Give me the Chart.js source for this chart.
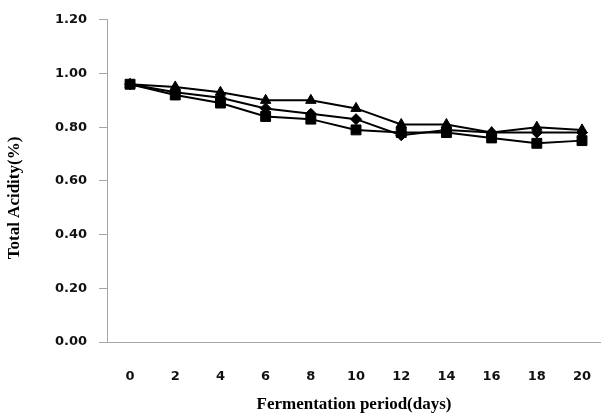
<!DOCTYPE html>
<html>
<head>
<meta charset="utf-8">
<script src="https://cdn.jsdelivr.net/npm/chart.js@4"></script>
<style>
  html, body { margin: 0; padding: 0; background: #fff; overflow: hidden; }
  canvas { display: block; }
</style>
</head>
<body>
<canvas id="chart" width="601" height="417"></canvas>
<script>
const days = [0, 2, 4, 6, 8, 10, 12, 14, 16, 18, 20];
const triangleSeries = [0.96, 0.95, 0.93, 0.90, 0.90, 0.87, 0.81, 0.81, 0.78, 0.80, 0.79];
const diamondSeries = [0.96, 0.93, 0.91, 0.87, 0.85, 0.83, 0.77, 0.79, 0.78, 0.78, 0.78];
const squareSeries = [0.96, 0.92, 0.89, 0.84, 0.83, 0.79, 0.78, 0.78, 0.76, 0.74, 0.75];
const yTicks = [0, 0.2, 0.4, 0.6, 0.8, 1.0, 1.2];

const AXIS_GREY = "#a6a6a6";
const TICK_FONT = { family: "DejaVu Sans", weight: "bold", size: 13 };

function points(values) {
  return days.map((d, i) => ({ x: d, y: values[i] }));
}

function series(values, style, radius) {
  return {
    data: points(values),
    borderColor: "#000",
    backgroundColor: "#000",
    borderWidth: 2,
    pointStyle: style,
    pointRadius: radius,
    pointBorderWidth: 1,
    pointBackgroundColor: "#000",
    pointBorderColor: "#000",
    tension: 0,
  };
}

// y title sits a bit below the middle of the axis in the original
const yTitlePlugin = {
  id: "yTitle",
  afterDraw(chart) {
    const ctx = chart.ctx;
    ctx.save();
    ctx.translate(15, 198);
    ctx.rotate(-Math.PI / 2);
    ctx.font = "bold 17px 'Liberation Serif'";
    ctx.fillStyle = "#000";
    ctx.textAlign = "center";
    ctx.textBaseline = "middle";
    ctx.fillText("Total Acidity(%)", 0, 0);
    ctx.restore();
  },
};

new Chart(document.getElementById("chart"), {
  type: "line",
  data: {
    datasets: [
      series(squareSeries, "rect", 7),
      series(diamondSeries, "rectRot", 5.5),
      series(triangleSeries, "triangle", 6),
    ],
  },
  options: {
    responsive: false,
    animation: false,
    layout: { autoPadding: false, padding: { top: 16, right: 0, bottom: 0, left: 0 } },
    plugins: {
      legend: { display: false },
      tooltip: { enabled: false },
    },
    scales: {
      x: {
        type: "linear",
        min: -1.02,
        max: 20.84,
        afterBuildTicks(scale) {
          scale.ticks = days.map((d) => ({ value: d }));
        },
        afterFit(scale) {
          scale.height = 75;
          scale.paddingLeft = 0;
          scale.paddingRight = 0;
        },
        grid: { display: false, drawTicks: false },
        border: { display: true, color: AXIS_GREY, width: 1 },
        ticks: {
          padding: 27,
          color: "#111",
          font: TICK_FONT,
          maxRotation: 0,
          autoSkip: false,
          callback: (v) => String(v),
        },
        title: {
          display: true,
          text: "Fermentation period(days)",
          color: "#000",
          font: { family: "Liberation Serif", weight: "bold", size: 17 },
          padding: { top: 0, bottom: 2 },
        },
      },
      y: {
        min: 0,
        max: 1.2,
        afterBuildTicks(scale) {
          scale.ticks = yTicks.map((v) => ({ value: v }));
        },
        afterFit(scale) {
          scale.width = 107;
        },
        grid: {
          drawOnChartArea: false,
          drawTicks: true,
          tickLength: 8,
          color: AXIS_GREY,
        },
        border: { display: true, color: AXIS_GREY, width: 1 },
        ticks: {
          padding: 12,
          color: "#111",
          font: TICK_FONT,
          callback: (v) => Number(v).toFixed(2),
        },
      },
    },
  },
  plugins: [yTitlePlugin],
});
</script>
</body>
</html>
